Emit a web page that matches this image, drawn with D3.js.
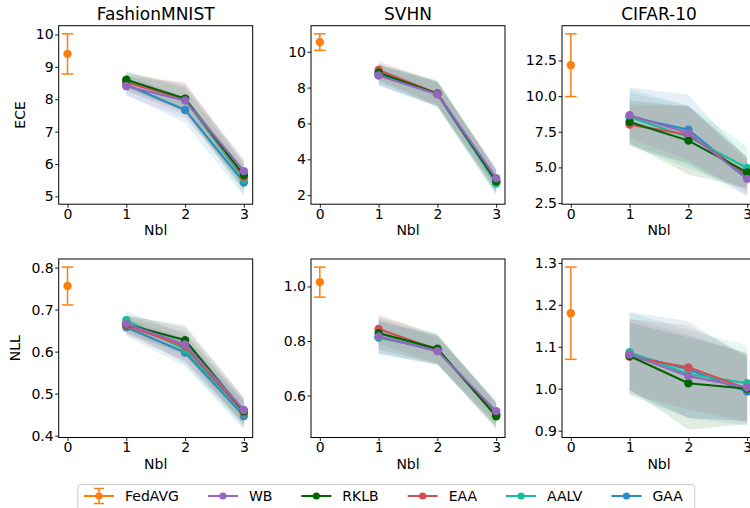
<!DOCTYPE html>
<html><head><meta charset="utf-8">
<script src="https://cdn.jsdelivr.net/npm/d3@7/dist/d3.min.js"></script>
<style>
body{margin:0;background:#fff}
svg{display:block;font-family:"DejaVu Sans",sans-serif}
</style>
</head><body>
<svg id="chart" width="750" height="508"></svg>
<script>
// ---------------- data ----------------
const datasets = ["FashionMNIST", "SVHN", "CIFAR-10"];
const metrics = ["ECE", "NLL"];
const methods = ["WB", "RKLB", "EAA", "AALV", "GAA"];
const nblSteps = [1, 2, 3];
const xTickValues = [0, 1, 2, 3];

// FedAVG at Nbl = 0 (mean, error) per dataset
const fedavgEceMean = [9.40, 10.54, 12.17];
const fedavgEceErr  = [0.62, 0.46, 2.20];
const fedavgNllMean = [0.756, 1.016, 1.180];
const fedavgNllErr  = [0.045, 0.055, 0.110];

// ECE
const eceFashionMean = {WB:[8.40,7.96,5.78], RKLB:[8.60,8.02,5.66], EAA:[8.52,8.01,5.60], AALV:[8.55,7.98,5.52], GAA:[8.45,7.67,5.43]};
const eceFashionStd  = {WB:[0.30,0.55,0.35], RKLB:[0.25,0.40,0.45], EAA:[0.25,0.50,0.40], AALV:[0.30,0.35,0.45], GAA:[0.30,0.40,0.42]};
const eceSvhnMean = {WB:[8.68,7.63,2.95], RKLB:[8.83,7.66,2.78], EAA:[8.98,7.66,2.80], AALV:[8.72,7.66,2.65], GAA:[8.70,7.64,2.70]};
const eceSvhnStd  = {WB:[0.55,0.65,0.60], RKLB:[0.50,0.70,0.65], EAA:[0.50,0.65,0.60], AALV:[0.60,0.75,0.70], GAA:[0.55,0.70,0.65]};
const eceCifarMean = {WB:[8.66,7.42,4.19], RKLB:[8.19,6.88,4.65], EAA:[8.00,7.30,4.50], AALV:[8.54,7.14,4.96], GAA:[8.55,7.65,4.30]};
const eceCifarStd  = {WB:[1.60,1.90,1.20], RKLB:[1.50,2.40,1.10], EAA:[1.40,2.00,1.20], AALV:[2.00,2.20,1.50], GAA:[2.05,2.45,1.30]};

// NLL
const nllFashionMean = {WB:[0.666,0.617,0.461], RKLB:[0.665,0.627,0.458], EAA:[0.662,0.612,0.455], AALV:[0.675,0.605,0.452], GAA:[0.658,0.598,0.447]};
const nllFashionStd  = {WB:[0.022,0.040,0.030], RKLB:[0.020,0.035,0.033], EAA:[0.022,0.035,0.030], AALV:[0.022,0.035,0.032], GAA:[0.022,0.033,0.032]};
const nllSvhnMean = {WB:[0.817,0.763,0.543], RKLB:[0.829,0.772,0.524], EAA:[0.844,0.768,0.530], AALV:[0.812,0.768,0.530], GAA:[0.815,0.766,0.532]};
const nllSvhnStd  = {WB:[0.065,0.050,0.040], RKLB:[0.060,0.055,0.048], EAA:[0.055,0.050,0.045], AALV:[0.060,0.055,0.045], GAA:[0.058,0.053,0.043]};
const nllCifarMean = {WB:[1.082,1.030,1.003], RKLB:[1.078,1.013,1.000], EAA:[1.076,1.051,1.000], AALV:[1.087,1.035,1.013], GAA:[1.083,1.046,0.993]};
const nllCifarStd  = {WB:[0.085,0.100,0.080], RKLB:[0.080,0.110,0.085], EAA:[0.090,0.100,0.080], AALV:[0.095,0.105,0.090], GAA:[0.100,0.115,0.080]};

// y tick labels per panel
const eceFashionTicks = [5, 6, 7, 8, 9, 10];
const eceSvhnTicks = [2, 4, 6, 8, 10];
const eceCifarTicks = [2.5, 5.0, 7.5, 10.0, 12.5];
const nllFashionTicks = [0.4, 0.5, 0.6, 0.7, 0.8];
const nllSvhnTicks = [0.6, 0.8, 1.0];
const nllCifarTicks = [0.9, 1.0, 1.1, 1.2, 1.3];

const colors = {FedAVG:"#ff7f0e", WB:"#9467bd", RKLB:"#006400", EAA:"#d1504f", AALV:"#1abc9c", GAA:"#2a8cc0"};

// ---------------- layout ----------------
const panels = [
  {row:0,col:0,mean:eceFashionMean,std:eceFashionStd,fm:fedavgEceMean[0],fe:fedavgEceErr[0],ticks:eceFashionTicks,fmt:d3.format("d")},
  {row:0,col:1,mean:eceSvhnMean,std:eceSvhnStd,fm:fedavgEceMean[1],fe:fedavgEceErr[1],ticks:eceSvhnTicks,fmt:d3.format("d")},
  {row:0,col:2,mean:eceCifarMean,std:eceCifarStd,fm:fedavgEceMean[2],fe:fedavgEceErr[2],ticks:eceCifarTicks,fmt:d3.format(".1f")},
  {row:1,col:0,mean:nllFashionMean,std:nllFashionStd,fm:fedavgNllMean[0],fe:fedavgNllErr[0],ticks:nllFashionTicks,fmt:d3.format(".1f")},
  {row:1,col:1,mean:nllSvhnMean,std:nllSvhnStd,fm:fedavgNllMean[1],fe:fedavgNllErr[1],ticks:nllSvhnTicks,fmt:d3.format(".1f")},
  {row:1,col:2,mean:nllCifarMean,std:nllCifarStd,fm:fedavgNllMean[2],fe:fedavgNllErr[2],ticks:nllCifarTicks,fmt:d3.format(".1f")}
];
const colLeft = [58.7, 311, 562];
const rowTop = [25.7, 259];
const pw = 194, ph = 178.5;

const svg = d3.select("#chart");
svg.append("rect").attr("width",750).attr("height",508).attr("fill","#fff");

const drawOrder = methods.slice().reverse();

panels.forEach(p => {
  const g = svg.append("g").attr("transform", `translate(${colLeft[p.col]},${rowTop[p.row]})`);
  // autoscale like matplotlib (5% margins)
  let lo = p.fm - p.fe, hi = p.fm + p.fe;
  methods.forEach(m => p.mean[m].forEach((v,i) => {
    lo = Math.min(lo, v - p.std[m][i]); hi = Math.max(hi, v + p.std[m][i]);
  }));
  const pad = (hi - lo) * 0.05;
  const x = d3.scaleLinear().domain([-0.15, 3.15]).range([0, pw]);
  const y = d3.scaleLinear().domain([lo - pad, hi + pad]).range([ph, 0]);

  // bands
  drawOrder.forEach(m => {
    const area = d3.area().x((d,i)=>x(nblSteps[i])).y0((d,i)=>y(d - p.std[m][i])).y1((d,i)=>y(d + p.std[m][i]));
    g.append("path").attr("d", area(p.mean[m])).attr("fill", colors[m]).attr("fill-opacity", 0.12);
  });
  // FedAVG error bar
  const fx = x(0);
  g.append("line").attr("x1",fx).attr("x2",fx).attr("y1",y(p.fm-p.fe)).attr("y2",y(p.fm+p.fe)).attr("stroke",colors.FedAVG).attr("stroke-width",1.5);
  [p.fm-p.fe, p.fm+p.fe].forEach(v => g.append("line").attr("x1",fx-5.8).attr("x2",fx+5.8).attr("y1",y(v)).attr("y2",y(v)).attr("stroke",colors.FedAVG).attr("stroke-width",1.5));
  g.append("circle").attr("cx",fx).attr("cy",y(p.fm)).attr("r",4.2).attr("fill",colors.FedAVG);
  // lines + markers
  drawOrder.forEach(m => {
    const line = d3.line().x((d,i)=>x(nblSteps[i])).y(d=>y(d));
    g.append("path").attr("d", line(p.mean[m])).attr("fill","none").attr("stroke",colors[m]).attr("stroke-width",2.1);
    g.selectAll(null).data(p.mean[m]).enter().append("circle")
      .attr("cx",(d,i)=>x(nblSteps[i])).attr("cy",d=>y(d)).attr("r",4.2).attr("fill",colors[m]);
  });
  // frame
  g.append("rect").attr("width",pw).attr("height",ph).attr("fill","none").attr("stroke","#000").attr("stroke-width",1);
  // axes
  const xa = g.append("g").attr("transform",`translate(0,${ph})`)
    .call(d3.axisBottom(x).tickValues(xTickValues).tickFormat(d3.format("d")).tickSize(3.5).tickPadding(1.5));
  const ya = g.append("g").call(d3.axisLeft(y).tickValues(p.ticks).tickFormat(p.fmt).tickSize(3.5).tickPadding(1.5));
  [xa, ya].forEach(a => {
    a.select(".domain").remove();
    a.selectAll("text").attr("font-size",14).attr("font-family","DejaVu Sans").attr("fill","#000");
    a.selectAll("line").attr("stroke","#000").attr("stroke-width",0.9);
  });
  // x label
  g.append("text").attr("x",pw/2).attr("y",ph + 31).attr("text-anchor","middle").attr("font-size",14).text("Nbl");
  if (p.row === 0) {
    g.append("text").attr("x",pw/2).attr("y",-6).attr("text-anchor","middle").attr("font-size",17).text(datasets[p.col]);
  }
  if (p.col === 0) {
    const lx = p.row === 0 ? -33.7 : -38.7;
    g.append("text").attr("transform",`translate(${lx},${ph/2}) rotate(-90)`).attr("text-anchor","middle").attr("font-size",14).text(metrics[p.row]);
  }
});

// ---------------- legend ----------------
const leg = svg.append("g");
leg.append("rect").attr("x",77.8).attr("y",484.5).attr("width",617).attr("height",40).attr("rx",3)
  .attr("fill","#fff").attr("stroke","#cccccc").attr("stroke-width",1);
const legendItems = ["FedAVG"].concat(methods);
let cx = 84;
const ly = 496;
legendItems.forEach(name => {
  const c = colors[name];
  leg.append("line").attr("x1",cx).attr("x2",cx+30).attr("y1",ly).attr("y2",ly).attr("stroke",c).attr("stroke-width",2.1);
  if (name === "FedAVG") {
    leg.append("line").attr("x1",cx+15).attr("x2",cx+15).attr("y1",ly-7.5).attr("y2",ly+7.5).attr("stroke",c).attr("stroke-width",1.5);
    [ly-7.5, ly+7.5].forEach(v => leg.append("line").attr("x1",cx+10).attr("x2",cx+20).attr("y1",v).attr("y2",v).attr("stroke",c).attr("stroke-width",1.5));
  }
  leg.append("circle").attr("cx",cx+15).attr("cy",ly).attr("r",3.6).attr("fill",c);
  const t = leg.append("text").attr("x",cx+41).attr("y",ly+5).attr("font-size",14).text(name);
  const w = t.node().getComputedTextLength();
  cx = cx + 41 + w + 29;
});
</script>
</body></html>
